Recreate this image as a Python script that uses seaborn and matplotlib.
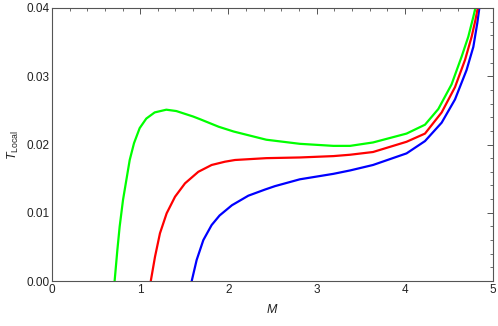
import numpy as np
import matplotlib
matplotlib.use("Agg")
import matplotlib.pyplot as plt
import seaborn as sns
from matplotlib.ticker import MultipleLocator, FormatStrFormatter

# values
m_green = [0.71, 0.741, 0.767, 0.805, 0.843, 0.881, 0.930, 0.994, 1.069, 1.164,
           1.296, 1.41, 1.60, 1.68, 1.89, 2.06, 2.43, 2.81, 3.19, 3.38, 3.64,
           4.02, 4.229, 4.38, 4.53, 4.645, 4.72, 4.777, 4.80, 4.82]
t_green = [0.0, 0.00454, 0.00796, 0.01187, 0.0148, 0.01773, 0.0202, 0.0224,
           0.0238, 0.0247, 0.0251, 0.0249, 0.0241, 0.0237, 0.0226, 0.0219, 0.0207,
           0.0201, 0.0198, 0.0198, 0.0203, 0.0216, 0.0229, 0.0252, 0.0288, 0.0329,
           0.0358, 0.0387, 0.0400, 0.0420]

m_red = [1.12, 1.168, 1.224, 1.30, 1.395, 1.508, 1.659, 1.81, 1.961, 2.075, 2.43,
         2.81, 3.19, 3.38, 3.64, 4.02, 4.229, 4.418, 4.569, 4.683, 4.758, 4.80,
         4.827, 4.85]
t_red = [0.0, 0.00356, 0.00699, 0.00992, 0.01235, 0.01431, 0.0160, 0.0170,
         0.01748, 0.01773, 0.0180, 0.0181, 0.0183, 0.0185, 0.0189, 0.0204,
         0.0216, 0.0247, 0.0284, 0.0324, 0.0358, 0.0382, 0.0400, 0.0425]

m_blue = [1.584, 1.64, 1.716, 1.81, 1.90, 2.04, 2.226, 2.415, 2.528, 2.81, 3.19,
          3.38, 3.64, 4.02, 4.229, 4.418, 4.569, 4.70, 4.777, 4.822, 4.845, 4.86]
t_blue = [0.0, 0.00308, 0.0060, 0.0082, 0.0096, 0.0111, 0.0125, 0.0134, 0.0139,
          0.0149, 0.0157, 0.0162, 0.0170, 0.0187, 0.0205, 0.0232, 0.0266, 0.0309,
          0.0343, 0.0378, 0.0400, 0.0420]

sns.set_style("white")
plt.rcParams['font.family'] = ['Liberation Sans', 'DejaVu Sans']
plt.rcParams['mathtext.fontset'] = 'custom'
plt.rcParams['mathtext.rm'] = 'Liberation Sans'
plt.rcParams['mathtext.it'] = 'Liberation Sans:italic'

fig = plt.figure(figsize=(4.98, 3.26), dpi=100)
ax = fig.add_axes([52 / 498, 45 / 326, 441 / 498, 273 / 326])

for m, t, c in [(m_blue, t_blue, (0, 0, 1)), (m_red, t_red, (1, 0, 0)),
                (m_green, t_green, (0, 1, 0))]:
    sns.lineplot(x=m, y=t, sort=False, estimator=None, color=c, lw=1.6, ax=ax)

ax.set_xlim(0, 5)
ax.set_ylim(0, 0.04)
ax.xaxis.set_major_locator(MultipleLocator(1))
ax.xaxis.set_minor_locator(MultipleLocator(0.2))
ax.yaxis.set_major_locator(MultipleLocator(0.01))
ax.yaxis.set_minor_locator(MultipleLocator(0.002))
ax.yaxis.set_major_formatter(FormatStrFormatter('%.2f'))

grey = '#555555'
for s in ax.spines.values():
    s.set_color(grey)
    s.set_linewidth(0.8)
ax.tick_params(which='both', direction='in', top=True, right=True,
               color=grey, labelsize=8.5, labelcolor='#222222', pad=2)
ax.tick_params(which='major', length=4, width=0.7)
ax.tick_params(which='minor', length=2, width=0.6)

ax.set_xlabel('$M$', fontsize=9, color='#222222', labelpad=5)
ax.set_ylabel(r'$T_{\mathrm{Local}}$', fontsize=9, color='#222222', labelpad=4)

fig.savefig('out.png', dpi=100)
